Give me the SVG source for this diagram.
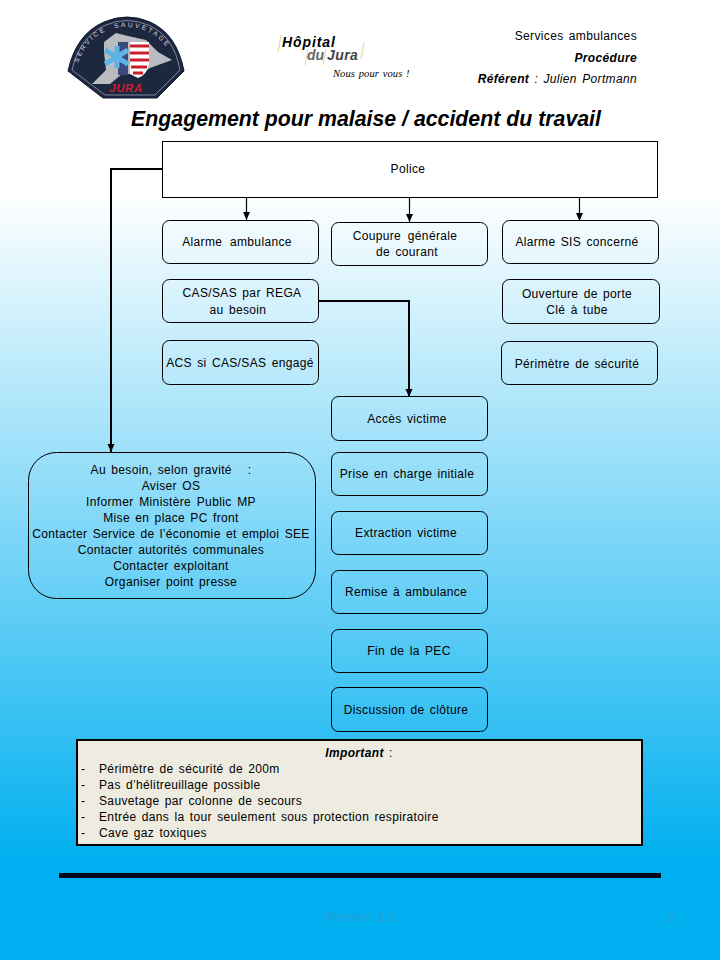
<svg xmlns="http://www.w3.org/2000/svg" width="720" height="960" viewBox="0 0 720 960">
<style>
text{font-family:"Liberation Sans",Arial,sans-serif;font-size:12px;fill:#000;letter-spacing:.35px;word-spacing:1.6px}
.c{text-anchor:middle}
.box{fill:none;stroke:#000;stroke-width:1}
.line{fill:none;stroke:#000;stroke-width:2}
.thin{fill:none;stroke:#000;stroke-width:1.2}
.logo{letter-spacing:0;word-spacing:0;font-size:14px;font-weight:bold;font-style:italic}
</style>
<defs>
<linearGradient id="bg" x1="0" y1="0" x2="0" y2="1"><stop offset="0.2" stop-color="#fff"/><stop offset="0.9" stop-color="#00aff0"/><stop offset="1" stop-color="#00aff0"/></linearGradient>
<marker id="a" markerUnits="userSpaceOnUse" markerWidth="8" markerHeight="9" refX="8" refY="3.500" orient="auto"><path d="M0 0L8 3.500L0 7Z" fill="#000"/></marker>
<path id="arc" d="M78 63C86 40 104 27 126 27C148 27 167 40 175 63"/>
</defs>
<rect width="720" height="960" fill="url(#bg)"/>
<g id="logo-badge">
<path d="M68 71Q76 34 104 22Q127 12 150 22Q177 34 184 71L157 98H103Z" fill="#1d2740" stroke="#10182c" stroke-width="1"/>
<path d="M72 70Q80 36 106 25Q127 16 148 25Q174 36 180 70L155 95H105Z" fill="none" stroke="#9aa0ae" stroke-width="0.8"/>
<path d="M92 84L106 70L104 52L104 42L116 33L128 36L146 40L158 52L172 60L150 68L140 74L122 74L110 84Z" fill="#b9bcc0"/>
<path d="M130 42H149V64Q147 75 138 78L130 74Z" fill="#fff"/>
<path d="M130 46H149M130 53H149M130 60H149M131 67H147M133 73H143" stroke="#c8202c" stroke-width="3.200"/>
<rect x="118" y="42" width="10" height="33" fill="#3a4a7a"/>
<path d="M117 46V68M105 50L128 64M105 64L128 50" stroke="#5fb4e6" stroke-width="5"/>
<text style="font-size:6.500px;fill:#d5d8e0;letter-spacing:2.300px;word-spacing:4px"><textPath href="#arc">SERVICE SAUVETAGE</textPath></text>
<text x="126" y="92" class="c" style="font-size:11.500px;font-weight:bold;font-style:italic;fill:#c8202c;letter-spacing:.6px">JURA</text>
</g>
<g id="logo-hopital">
<path d="M281 35L278 52M308 49L305 65M326 49L323 65M364 43L361 59" stroke="#e2c27a" stroke-width="0.8"/>
<text x="282" y="47" class="logo" style="letter-spacing:.9px">Hôpital</text>
<text x="307" y="60" class="logo" style="fill:#666">du</text>
<text x="327" y="60" class="logo" style="fill:#444;letter-spacing:.4px">Jura</text>
<text x="333" y="77" style="font-family:'Liberation Serif',serif;font-size:10.500px;font-style:italic;letter-spacing:.1px;word-spacing:1px">Nous pour vous !</text>
</g>
<g id="header">
<text x="637" y="40" text-anchor="end">Services ambulances</text>
<text x="637" y="62" text-anchor="end" style="font-weight:bold;font-style:italic">Procédure</text>
<text x="637" y="83" text-anchor="end" style="font-style:italic"><tspan style="font-weight:bold">Référent</tspan> : Julien Portmann</text>
</g>
<text id="title" x="366" y="126" class="c" style="font-size:21.300px;font-weight:bold;font-style:italic;letter-spacing:0;word-spacing:0">Engagement pour malaise / accident du travail</text>
<g id="connectors">
<path class="line" d="M162 169H111V452" marker-end="url(#a)"/>
<path class="thin" d="M246.500 197V220" marker-end="url(#a)"/>
<path class="thin" d="M409.500 197V222" marker-end="url(#a)"/>
<path class="thin" d="M579.500 197V221" marker-end="url(#a)"/>
<path class="line" d="M319 301H409V397" marker-end="url(#a)"/>
</g>
<g id="police"><rect class="box" x="162.500" y="141.500" width="495" height="56" style="fill:#fff"/><text x="408" y="173" class="c">Police</text></g>
<g id="alarme-ambulance"><rect class="box" x="162.500" y="220.500" width="156" height="43" rx="7"/><text x="237" y="246" class="c" style="word-spacing:4px">Alarme ambulance</text></g>
<g id="coupure"><rect class="box" x="331.500" y="222.500" width="156" height="43" rx="7"/><text x="405" y="240" class="c" style="word-spacing:3px">Coupure générale</text><text x="407" y="256" class="c">de courant</text></g>
<g id="alarme-sis"><rect class="box" x="502.500" y="220.500" width="156" height="43" rx="7"/><text x="577" y="246" class="c">Alarme SIS concerné</text></g>
<g id="cas-sas"><rect class="box" x="162.500" y="279.500" width="156" height="43" rx="7"/><text x="242" y="297" class="c">CAS/SAS par REGA</text><text x="238" y="314" class="c">au besoin</text></g>
<g id="ouverture"><rect class="box" x="502.500" y="279.500" width="157" height="44" rx="7"/><text x="577" y="298" class="c">Ouverture de porte</text><text x="577" y="314" class="c">Clé à tube</text></g>
<g id="acs"><rect class="box" x="162.500" y="340.500" width="156" height="44" rx="7"/><text x="240" y="367" class="c">ACS si CAS/SAS engagé</text></g>
<g id="perimetre"><rect class="box" x="501.500" y="341.500" width="156" height="43" rx="7"/><text x="577" y="368" class="c">Périmètre de sécurité</text></g>
<g id="acces"><rect class="box" x="331.500" y="396.500" width="156" height="44" rx="7"/><text x="407" y="423" class="c">Accès victime</text></g>
<g id="prise"><rect class="box" x="331.500" y="452.500" width="156" height="43" rx="7"/><text x="407" y="478" class="c">Prise en charge initiale</text></g>
<g id="extraction"><rect class="box" x="331.500" y="511.500" width="156" height="43" rx="7"/><text x="406" y="537" class="c">Extraction victime</text></g>
<g id="remise"><rect class="box" x="331.500" y="570.500" width="156" height="43" rx="7"/><text x="406" y="596" class="c">Remise à ambulance</text></g>
<g id="fin"><rect class="box" x="331.500" y="629.500" width="156" height="43" rx="7"/><text x="409" y="655" class="c">Fin de la PEC</text></g>
<g id="discussion"><rect class="box" x="331.500" y="687.500" width="156" height="44" rx="7"/><text x="406" y="714" class="c">Discussion de clôture</text></g>
<g id="gravite"><rect class="box" x="28.500" y="452.500" width="287" height="146" rx="28"/>
<text class="c" x="171" y="474" xml:space="preserve">Au besoin, selon gravité   :</text>
<text class="c" x="171" y="490">Aviser OS</text>
<text class="c" x="171" y="506" style="word-spacing:2px">Informer Ministère Public MP</text>
<text class="c" x="171" y="522">Mise en place PC front</text>
<text class="c" x="171" y="538">Contacter Service de l’économie et emploi SEE</text>
<text class="c" x="171" y="554">Contacter autorités communales</text>
<text class="c" x="171" y="570">Contacter exploitant</text>
<text class="c" x="171" y="586">Organiser point presse</text></g>
<g id="important"><rect x="77" y="740" width="565" height="105" fill="#eeece1" stroke="#000" stroke-width="2"/>
<text x="359" y="757" class="c"><tspan style="font-weight:bold;font-style:italic">Important</tspan> :</text>
<text x="81" y="773">-</text><text x="99" y="773">Périmètre de sécurité de 200m</text>
<text x="81" y="789">-</text><text x="99" y="789">Pas d’hélitreuillage possible</text>
<text x="81" y="805">-</text><text x="99" y="805">Sauvetage par colonne de secours</text>
<text x="81" y="821">-</text><text x="99" y="821">Entrée dans la tour seulement sous protection respiratoire</text>
<text x="81" y="837">-</text><text x="99" y="837">Cave gaz toxiques</text></g>
<rect id="rule" x="59" y="873" width="602" height="5" fill="#00081a"/>
<g id="footer"><text x="360" y="921" class="c" style="font-size:13.500px;fill:#2f9ccc">Version 1.1</text><text x="671" y="921" class="c" style="font-size:13.500px;fill:#2f9ccc">2</text></g>
</svg>
